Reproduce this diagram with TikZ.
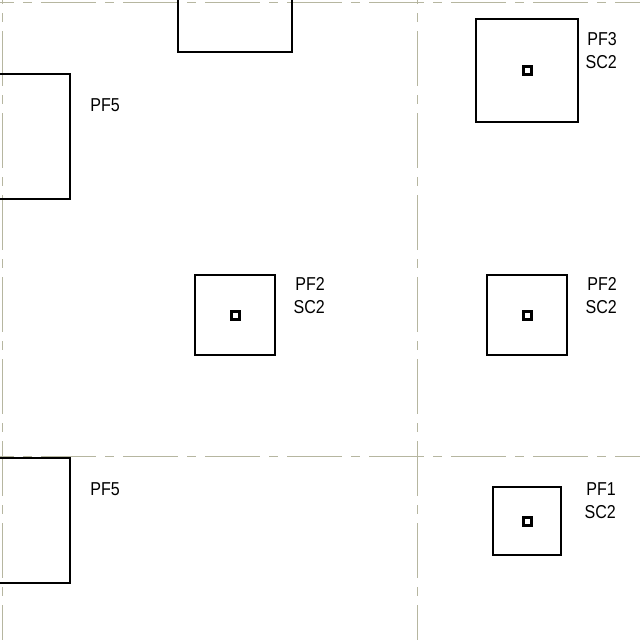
\documentclass[tikz,border=0pt]{standalone}
\usepackage{fontspec}
\setmainfont{Liberation Sans}
\tikzset{
  gridlineh/.style={draw=gridcol,line width=0.75pt,dash pattern=on 41.25pt off 6.75pt on 6.75pt off 6.75pt,dash phase=30.75pt},
  gridlinev/.style={draw=gridcol,line width=0.75pt,dash pattern=on 41.25pt off 6.75pt on 6.75pt off 6.75pt,dash phase=38.25pt},
  footing/.style={draw,line width=1.8pt,inner sep=0pt},
  pier/.style={draw,line width=2.25pt,inner sep=0pt,minimum size=6pt},
  footlabel/.style={anchor=north east,inner sep=0pt,align=right,xscale=0.86,font=\fontsize{14}{17.25}\selectfont}
}
\definecolor{gridcol}{RGB}{182,182,160}
\begin{document}
\begin{tikzpicture}[x=0.75pt,y=0.75pt,yscale=-1,xscale=1]
\useasboundingbox (0,0) rectangle (640,640);
% Grid lines
\draw[gridlineh] (0,2.5) -- (640,2.5);
\draw[gridlineh] (0,456.5) -- (640,456.5);
\draw[gridlinev] (2.5,0) -- (2.5,640);
\draw[gridlinev] (417.5,0) -- (417.5,640);
% Footings
\draw (235,-5) node [footing,minimum size=85.5pt] (ftop) {};
\draw (7.5,136.5) node [footing,minimum size=93.75pt] (fleftA) {};
\draw (7.5,520.5) node [footing,minimum size=93.75pt] (fleftB) {};
\draw (527,70.5) node [footing,minimum width=76.5pt,minimum height=77.25pt] (fthree) {};
\draw (235,315) node [footing,minimum size=60pt] (ftwoA) {};
\draw (527,315) node [footing,minimum size=60pt] (ftwoB) {};
\draw (527,521) node [footing,minimum size=51pt] (fone) {};
% Piers
\draw (235.5,-5.5) node [pier] (ptop) {};
\draw (527.5,70.5) node [pier] (pthree) {};
\draw (235.5,315.5) node [pier] (ptwoA) {};
\draw (527.5,315.5) node [pier] (ptwoB) {};
\draw (527.5,521.5) node [pier] (pone) {};
% Text Node
\draw (120,98) node [footlabel] (lfiveA) {PF5};
\draw (120,482) node [footlabel] (lfiveB) {PF5};
\draw (617,32) node [footlabel] (lthree) {PF3\\SC2};
\draw (325,277) node [footlabel] (ltwoA) {PF2\\SC2};
\draw (617,277) node [footlabel] (ltwoB) {PF2\\SC2};
\draw (616,482) node [footlabel] (lone) {PF1\\SC2};
\end{tikzpicture}
\end{document}
